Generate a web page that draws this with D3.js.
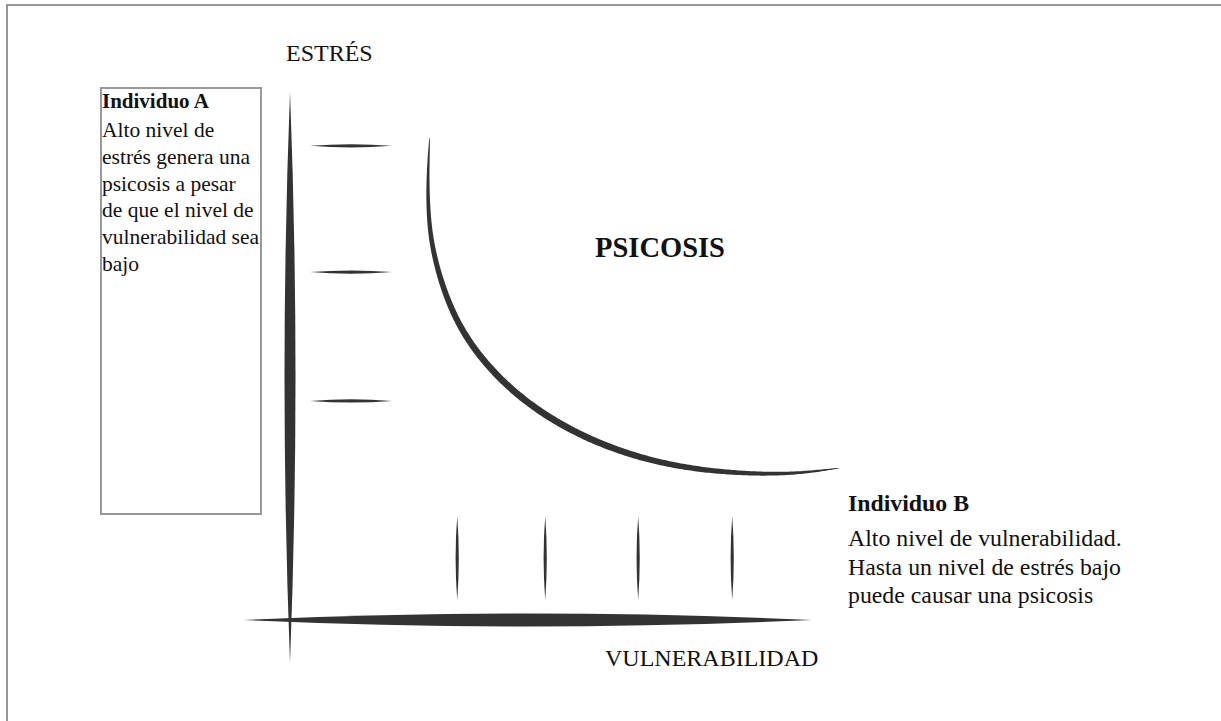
<!DOCTYPE html>
<html>
<head>
<meta charset="utf-8">
<script src="https://cdn.jsdelivr.net/npm/d3@7"></script>
<style>
  body { margin: 0; background: #fff; }
</style>
</head>
<body>
<div id="chart"></div>
<script>
// values (0-100 arbitrary units)
var xTickValues = [30.4, 46.4, 63.3, 80.4];
var yTickValues = [41.5, 65.9, 89.8];
var xAxisExtent = [-8.4, 94.9];
var yAxisExtent = [-8.1, 100];

// threshold curve: vulnerability vs stress
var curveVuln   = [25.4, 25.1, 25.4, 26.7, 29.1, 32.7, 38.2, 46.0, 56.4, 68.2, 80.0, 90.9, 100];
var curveStress = [91.5, 83.3, 74.8, 67.2, 59.7, 52.7, 45.8, 39.2, 33.5, 29.7, 28.0, 27.8, 28.8];

var axisLabelY = "ESTRÉS";
var axisLabelX = "VULNERABILIDAD";
var regionLabel = "PSICOSIS";
var boxATitle = "Individuo A";
var boxALines = ["Alto nivel de", "estrés genera una", "psicosis a pesar",
                 "de que el nivel de", "vulnerabilidad sea", "bajo"];
var boxBTitle = "Individuo B";
var boxBLines = ["Alto nivel de vulnerabilidad.", "Hasta un nivel de estrés bajo",
                 "puede causar una psicosis"];

var width = 1221,
    height = 721,
    ink = "#333",
    serif = "'Liberation Serif', Tinos, 'Times New Roman', Times, serif";

var svg = d3.select("#chart").append("svg")
    .attr("width", width)
    .attr("height", height)
    .style("display", "block");

// page frame (runs off the right / bottom edge)
svg.append("rect")
    .attr("x", 7).attr("y", 5)
    .attr("width", 1400).attr("height", 900)
    .style("fill", "none")
    .style("stroke", "#777")
    .style("stroke-width", 1.5);

var xScale = d3.scaleLinear().domain([0, 100]).range([290, 840]);
var yScale = d3.scaleLinear().domain([0, 100]).range([620, 92]);

// lens shaped stroke, thick in the middle and pointy at both ends
function lensH(x1, x2, y, h) {
    var xm = (x1 + x2) / 2;
    return "M" + x1 + "," + y + "Q" + xm + "," + (y - 2 * h) + " " + x2 + "," + y
         + "Q" + xm + "," + (y + 2 * h) + " " + x1 + "," + y + "Z";
}
function lensV(y1, y2, x, h) {
    var ym = (y1 + y2) / 2;
    return "M" + x + "," + y1 + "Q" + (x - 2 * h) + "," + ym + " " + x + "," + y2
         + "Q" + (x + 2 * h) + "," + ym + " " + x + "," + y1 + "Z";
}

var axesG = svg.append("g").attr("id", "axesG");

// y axis (stress)
axesG.append("path")
    .attr("d", lensV(yScale(yAxisExtent[1]), yScale(yAxisExtent[0]), xScale(0), 5.5))
    .style("fill", ink);

// x axis (vulnerability)
axesG.append("path")
    .attr("d", lensH(xScale(xAxisExtent[0]), xScale(xAxisExtent[1]), yScale(0), 6.5))
    .style("fill", ink);

axesG.selectAll("path.ytick")
    .data(yTickValues)
    .enter()
    .append("path")
    .attr("class", "ytick")
    .attr("d", function(d) {
        return lensH(xScale(0) + 20, xScale(0) + 102, yScale(d), 1.6);
    })
    .style("fill", ink);

axesG.selectAll("path.xtick")
    .data(xTickValues)
    .enter()
    .append("path")
    .attr("class", "xtick")
    .attr("d", function(d) {
        return lensV(yScale(0) - 104, yScale(0) - 20, xScale(d), 1.6);
    })
    .style("fill", ink);

// the curve, drawn as a tapered ribbon
var curvePts = curveVuln.map(function(v, i) { return [xScale(v), yScale(curveStress[i])]; });
var line = d3.line().curve(d3.curveNatural);
var guide = svg.append("path")
    .attr("d", line(curvePts))
    .style("fill", "none")
    .style("stroke", "none");
var node = guide.node(),
    total = node.getTotalLength(),
    n = 300,
    left = [], right = [];
for (var i = 0; i <= n; i++) {
    var t = i / n,
        p = node.getPointAtLength(t * total),
        a = node.getPointAtLength(Math.max(0, t * total - 1)),
        b = node.getPointAtLength(Math.min(total, t * total + 1)),
        dx = b.x - a.x, dy = b.y - a.y,
        len = Math.sqrt(dx * dx + dy * dy) || 1,
        w = 3.4 * Math.pow(Math.sin(Math.PI * t), 0.55);
    left.push([p.x - dy / len * w, p.y + dx / len * w]);
    right.push([p.x + dy / len * w, p.y - dx / len * w]);
}
svg.append("path")
    .attr("id", "threshold")
    .attr("d", "M" + left.concat(right.reverse()).join("L") + "Z")
    .style("fill", ink);
guide.remove();

function label(x, y, size, bold, txt) {
    return svg.append("text")
        .attr("x", x).attr("y", y)
        .style("font-family", serif)
        .style("font-size", size + "px")
        .style("font-weight", bold ? "bold" : "normal")
        .style("fill", "#111")
        .text(txt);
}

// axis labels
label(286, 61, 24, false, axisLabelY);
label(605, 666, 24, false, axisLabelX);
label(660, 257, 28.5, true, regionLabel).attr("text-anchor", "middle");

// individuo A box
svg.append("rect")
    .attr("x", 101).attr("y", 88)
    .attr("width", 160).attr("height", 426)
    .style("fill", "none")
    .style("stroke", "#999")
    .style("stroke-width", 2);

label(102, 108, 21, true, boxATitle);
boxALines.forEach(function(d, i) {
    label(102, 137 + i * 26.8, 21.5, false, d);
});

// individuo B note
label(848, 511, 23.8, true, boxBTitle);
boxBLines.forEach(function(d, i) {
    label(848, 546 + i * 28.5, 23.8, false, d);
});
</script>
</body>
</html>
